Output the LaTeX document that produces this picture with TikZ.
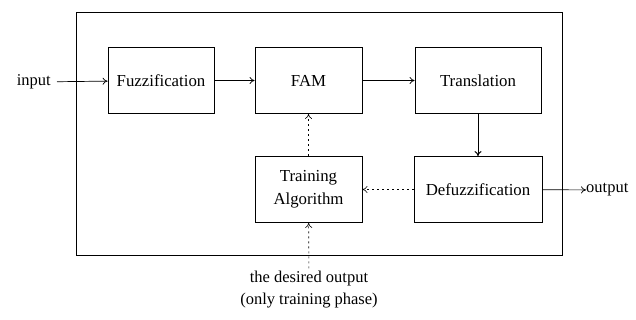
\documentclass[tikz,border=0pt]{standalone}
\usepackage{fontspec}
\setmainfont{Liberation Serif}
\usetikzlibrary{arrows.meta}
\begin{document}
\begin{tikzpicture}[x=1pt,y=-1pt,
  blk/.style={draw,line width=0.8pt,minimum width=#1,minimum height=66pt,inner sep=0pt,align=center,
    font=\fontsize{16.8}{23.5}\selectfont},
  lbl/.style={inner sep=0pt,align=center,font=\fontsize{16.5}{22}\selectfont},
  arr/.style={-{To[length=5pt,width=7pt]},line width=0.7pt},
  dot/.style={-{To[length=5pt,width=7pt]},line width=0.6pt,dash pattern=on 2pt off 3pt}]
\useasboundingbox (0,0) rectangle (636,320);
\node[draw,line width=0.9pt,minimum width=486pt,minimum height=243pt,inner sep=0pt] (outer) at (319.5,133.5) {};
\node[blk=106pt] (fuz) at (161,80.5) {Fuzzification};
\node[blk=107pt] (fam) at (308.5,80.5) {FAM};
\node[blk=126pt] (tra) at (478,80.5) {Translation};
\node[blk=107pt] (trn) at (308.5,189.5) {Training\\Algorithm};
\node[blk=128pt] (def) at (478,189.5) {Defuzzification};
\node[lbl,anchor=east] (in) at (51,82) {input};
\node[lbl,anchor=west] (out) at (586,190) {output};
\node[lbl] (des) at (309,290) {the desired output\\(only training phase)};
\draw[arr,shorten <=6pt] (in) -- (fuz);
\draw[arr] (fuz) -- (fam);
\draw[arr] (fam) -- (tra);
\draw[arr,line width=1pt] (tra) -- (def);
\draw[arr] (def) -- (out);
\draw[dot] (def) -- (trn);
\draw[dot] (trn) -- (fam);
\draw[dot,shorten <=3pt] (des) -- (trn);
\end{tikzpicture}
\end{document}
